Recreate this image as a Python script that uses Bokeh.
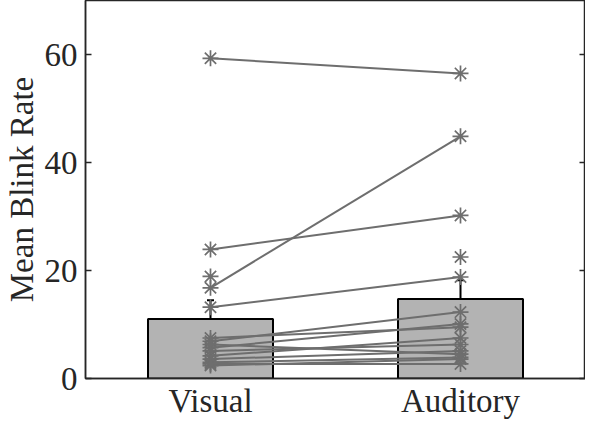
from bokeh.plotting import figure
from bokeh.models import (ColumnDataSource, FactorRange, Range1d, LinearAxis,
                          FixedTicker, Whisker, TeeHead)
from bokeh.embed import file_html
from bokeh.resources import INLINE

categories = ["Visual", "Auditory"]
bar_means = [11.0, 14.7]
bar_errors = [3.5, 3.5]

visual_vals = [59.3, 23.9, 16.8, 13.2, 18.9, 6.9, 5.7, 7.5, 4.2, 5.1, 6.3, 3.6, 3.0, 2.4, 2.7]
auditory_vals = [56.5, 30.2, 44.85, 18.8, 22.5, 12.3, 10.1, 9.5, 7.5, 6.3, 4.5, 5.1, 3.9, 3.6, 2.7]
linked = [True, True, True, True, False, True, True, True, True, True, True, True, True, True, True]

y_ticks = [0, 20, 40, 60]

FONT = "Liberation Serif"
TXT = "#262626"
GRAY = "#6e6e6e"
FS = "33px"

p = figure(width=585, height=421, output_backend="svg", toolbar_location=None,
           x_range=FactorRange(*categories, range_padding=0),
           y_range=Range1d(0, 70),
           min_border_left=0, min_border_top=0, min_border_right=0, min_border_bottom=0)
p.grid.visible = False
p.background_fill_color = "white"
p.outline_line_color = TXT
p.outline_line_width = 1.5

# bars
p.vbar(x=categories, top=bar_means, width=0.5, fill_color="#b3b3b3",
       line_color="black", line_width=2)

# error bars
lower = [m - e for m, e in zip(bar_means, bar_errors)]
upper = [m + e for m, e in zip(bar_means, bar_errors)]
esrc = ColumnDataSource(dict(x=categories, lower=lower, upper=upper))
w = Whisker(source=esrc, base="x", lower="lower", upper="upper",
            line_color="black", line_width=2,
            upper_head=TeeHead(size=7, line_color="black", line_width=2),
            lower_head=TeeHead(size=7, line_color="black", line_width=2))
p.add_layout(w)

# paired lines
xs, ys = [], []
for v, a, l in zip(visual_vals, auditory_vals, linked):
    if l:
        xs.append([categories[0], categories[1]])
        ys.append([v, a])
p.multi_line(xs=xs, ys=ys, line_color=GRAY, line_width=2)

# markers
p.scatter(x=[categories[0]] * len(visual_vals), y=visual_vals, marker="asterisk",
          size=16, line_color=GRAY, line_width=1.7)
p.scatter(x=[categories[1]] * len(auditory_vals), y=auditory_vals, marker="asterisk",
          size=16, line_color=GRAY, line_width=1.7)

# axes
xa = p.xaxis[0]
xa.major_tick_in = 0
xa.major_tick_out = 0
xa.minor_tick_line_color = None
xa.axis_line_color = TXT
xa.axis_line_width = 1.5
xa.major_label_text_font = FONT
xa.major_label_text_font_size = FS
xa.major_label_text_color = TXT
xa.major_label_standoff = 4

ya = p.yaxis[0]
ya.ticker = FixedTicker(ticks=y_ticks)
ya.major_tick_in = 6
ya.major_tick_out = 0
ya.minor_tick_line_color = None
ya.axis_line_color = TXT
ya.axis_line_width = 1.5
ya.major_tick_line_color = TXT
ya.major_tick_line_width = 1.5
ya.major_label_text_font = FONT
ya.major_label_text_font_size = FS
ya.major_label_text_color = TXT
ya.major_label_standoff = 8
ya.axis_label = "Mean Blink Rate"
ya.axis_label_text_font = FONT
ya.axis_label_text_font_size = FS
ya.axis_label_text_font_style = "normal"
ya.axis_label_text_color = TXT
ya.axis_label_standoff = 2

ra = LinearAxis(ticker=FixedTicker(ticks=y_ticks), major_tick_in=6, major_tick_out=0,
                minor_tick_line_color=None, axis_line_color=TXT, axis_line_width=1.5,
                major_tick_line_color=TXT, major_tick_line_width=1.5,
                major_label_text_font_size="1px", major_label_text_alpha=0,
                major_label_standoff=0)
p.add_layout(ra, "right")

open("out.html", "w").write(file_html(p, INLINE))
